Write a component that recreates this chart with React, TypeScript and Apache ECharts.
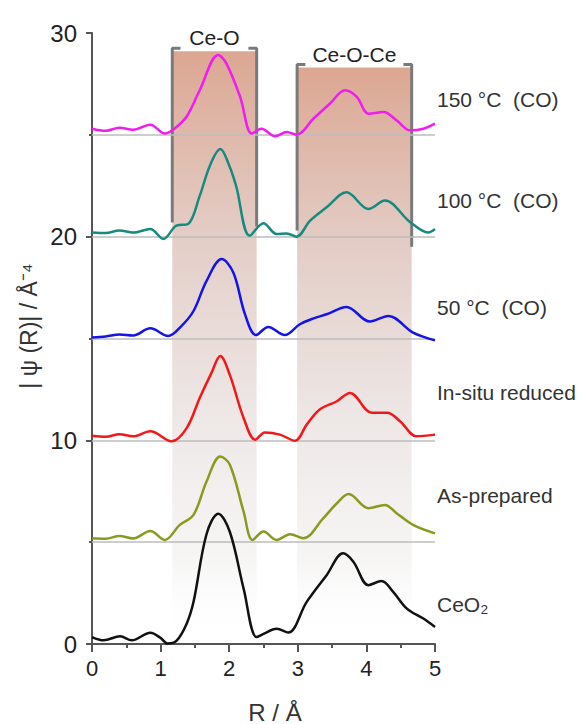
import React, { useEffect, useRef } from "react";
import * as echarts from "echarts";

// R (Å) / |ψ(R)| pairs, each spectrum already offset as in the figure
const ceo2: number[][] = [[0,0.34],[0.17,0.18],[0.41,0.38],[0.58,0.18],[0.85,0.55],[1.0,0.3],[1.1,0.02],[1.23,0.15],[1.38,1.0],[1.48,2.07],[1.67,5.4],[1.84,6.4],[2.01,5.5],[2.21,2.72],[2.4,0.34],[2.5,0.5],[2.69,0.75],[2.86,0.56],[3.13,2.07],[3.42,3.38],[3.66,4.45],[3.81,4.04],[4.03,2.89],[4.22,3.09],[4.39,2.56],[4.59,1.74],[4.83,1.25],[5.0,0.84]];
const asPrepared: number[][] = [[0,5.19],[0.2,5.17],[0.4,5.3],[0.6,5.18],[0.85,5.55],[1.06,5.11],[1.28,5.85],[1.48,6.34],[1.67,7.98],[1.87,9.21],[2.01,8.8],[2.21,6.5],[2.34,5.11],[2.5,5.52],[2.69,5.11],[2.89,5.39],[3.08,5.19],[3.37,6.17],[3.57,6.91],[3.74,7.36],[4.03,6.67],[4.27,6.83],[4.44,6.42],[4.68,5.85],[5.0,5.43]];
const inSitu: number[][] = [[0,10.23],[0.2,10.18],[0.4,10.3],[0.6,10.2],[0.85,10.44],[1.16,9.95],[1.38,10.6],[1.57,12.08],[1.74,13.3],[1.87,14.14],[2.01,13.2],[2.21,11.1],[2.38,10.03],[2.52,10.39],[2.74,10.28],[2.96,9.98],[3.13,10.77],[3.32,11.51],[3.57,11.92],[3.76,12.33],[4.08,11.35],[4.3,11.35],[4.49,10.94],[4.73,10.2],[5.0,10.28]];
const co50: number[][] = [[0,15.05],[0.2,15.1],[0.4,15.2],[0.6,15.15],[0.85,15.5],[1.11,15.12],[1.3,15.6],[1.48,16.35],[1.67,17.83],[1.89,18.9],[2.06,18.24],[2.23,16.19],[2.39,15.17],[2.57,15.57],[2.81,15.17],[3.03,15.7],[3.23,15.99],[3.42,16.19],[3.71,16.55],[4.05,15.83],[4.32,16.11],[4.68,15.29],[5.0,14.91]];
const co100: number[][] = [[0,20.21],[0.2,20.18],[0.4,20.3],[0.6,20.2],[0.85,20.38],[1.04,19.89],[1.23,20.54],[1.4,20.62],[1.57,22.0],[1.72,23.5],[1.87,24.3],[2.0,23.5],[2.1,22.5],[2.3,20.05],[2.5,20.66],[2.69,20.13],[2.84,20.16],[2.98,20.0],[3.18,20.79],[3.42,21.44],[3.71,22.18],[4.03,21.36],[4.27,21.77],[4.64,20.71],[4.9,20.21],[5.0,20.38]];
const co150: number[][] = [[0,25.3],[0.2,25.2],[0.4,25.35],[0.6,25.25],[0.85,25.5],[1.06,25.06],[1.2,25.3],[1.38,25.9],[1.57,27.19],[1.84,28.92],[1.96,28.5],[2.16,26.86],[2.33,25.06],[2.47,25.3],[2.67,24.93],[2.84,25.14],[2.98,25.01],[3.23,25.8],[3.47,26.54],[3.69,27.19],[3.86,26.86],[4.03,26.04],[4.25,26.12],[4.44,25.71],[4.64,25.22],[4.83,25.3],[5.0,25.55]];

const seriesNames = ["CeO₂", "As-prepared", "In-situ reduced", "50 °C (CO)", "100 °C (CO)", "150 °C (CO)"];
const seriesColors = ["#111111", "#8a9a1e", "#f01818", "#1414e6", "#178a80", "#f01cf0"];
const baselines = [5, 10, 15, 20, 25];

// shaded shell regions
const regionNames = ["Ce-O", "Ce-O-Ce"];
const regionX = [[1.17, 2.4], [2.99, 4.66]];
const regionTop = [29.1, 28.3];
const bracketBottom = [[20.7, 20.5], [20.3, 19.5]];

const xTicks = [0, 1, 2, 3, 4, 5];
const yTicks = [0, 10, 20, 30];

const sideLabels = ["150 °C\u00a0\u00a0(CO)", "100 °C\u00a0\u00a0(CO)", "50 °C\u00a0\u00a0(CO)", "In-situ reduced", "As-prepared", "CeO₂"];
const sideLabelY = [99, 200, 307, 392, 495, 604];

export default function App() {
  const ref = useRef<HTMLDivElement>(null);
  useEffect(() => {
    if (!ref.current) return;
    const chart = echarts.init(ref.current, null, { renderer: "svg" });
    const data = [ceo2, asPrepared, inSitu, co50, co100, co150];
    const font = "Liberation Sans, Arial, sans-serif";
    const grad = () =>
      new echarts.graphic.LinearGradient(0, 0, 0, 1, [
        { offset: 0, color: "rgba(218,162,140,0.95)" },
        { offset: 0.3, color: "rgba(224,198,190,0.9)" },
        { offset: 0.6, color: "rgba(232,224,222,0.8)" },
        { offset: 0.85, color: "rgba(240,238,237,0.6)" },
        { offset: 1, color: "rgba(255,255,255,0)" },
      ]);
    const bracketSeries: any[] = [];
    regionX.forEach((rx, i) => {
      const top = regionTop[i] + 0.15;
      const cap = 0.12;
      bracketSeries.push({
        type: "line",
        silent: true,
        symbol: "none",
        z: 3,
        lineStyle: { color: "#7a7a7a", width: 3 },
        data: [[rx[0], bracketBottom[i][0]], [rx[0], top], [rx[0] + cap, top]],
      });
      bracketSeries.push({
        type: "line",
        silent: true,
        symbol: "none",
        z: 3,
        lineStyle: { color: "#7a7a7a", width: 3 },
        data: [[rx[1] - cap, top], [rx[1], top], [rx[1], bracketBottom[i][1]]],
      });
    });
    const option: any = {
      animation: false,
      backgroundColor: "#ffffff",
      grid: { left: 92, right: 150, top: 33, bottom: 80 },
      xAxis: {
        type: "value",
        min: 0,
        max: 5,
        interval: 1,
        axisLine: { show: true, lineStyle: { color: "#555", width: 2 } },
        axisTick: { show: true, length: 8, lineStyle: { color: "#555", width: 2 } },
        minorTick: { show: true, splitNumber: 2, length: 4, lineStyle: { color: "#555", width: 2 } },
        splitLine: { show: false },
        axisLabel: {
          margin: 13,
          fontSize: 22,
          color: "#222",
          fontFamily: font,
          formatter: (v: number) => (xTicks.includes(v) ? String(v) : ""),
        },
      },
      yAxis: {
        type: "value",
        min: 0,
        max: 30,
        interval: 10,
        axisLine: { show: true, lineStyle: { color: "#555", width: 2 } },
        axisTick: { show: true, length: 6, lineStyle: { color: "#555", width: 2 } },
        minorTick: { show: true, splitNumber: 2, length: 3, lineStyle: { color: "#555", width: 2 } },
        splitLine: { show: false },
        axisLabel: {
          margin: 15,
          fontSize: 24,
          color: "#222",
          fontFamily: font,
          formatter: (v: number) => (yTicks.includes(v) ? String(v) : ""),
        },
      },
      series: [
        {
          type: "line",
          silent: true,
          data: [],
          z: 1,
          markArea: {
            silent: true,
            label: {
              show: true,
              position: "top",
              distance: 3,
              fontSize: 21,
              color: "#222",
              fontFamily: font,
            },
            data: regionX.map((rx, i) => [
              { name: regionNames[i], xAxis: rx[0], yAxis: 0, itemStyle: { color: grad() } },
              { xAxis: rx[1], yAxis: regionTop[i] },
            ]),
          },
          markLine: {
            silent: true,
            symbol: "none",
            label: { show: false },
            lineStyle: { color: "#bdbdbd", width: 1.5, type: "solid" },
            data: baselines.map((b) => ({ yAxis: b })),
          },
        },
        ...bracketSeries,
        ...data.map((d, i) => ({
          name: seriesNames[i],
          type: "line",
          data: d,
          smooth: 0.35,
          symbol: "none",
          z: 5,
          lineStyle: { color: seriesColors[i], width: 2.5 },
        })),
      ],
      graphic: [
        {
          type: "text",
          x: 29,
          y: 326,
          rotation: Math.PI / 2,
          style: {
            text: "| ψ (R)| / Å⁻⁴",
            fontSize: 23,
            fill: "#333",
            fontFamily: font,
            align: "center",
            verticalAlign: "middle",
          },
        },
        {
          type: "text",
          x: 275,
          y: 712,
          style: {
            text: "R / Å",
            fontSize: 24,
            fill: "#333",
            fontFamily: font,
            align: "center",
            verticalAlign: "middle",
          },
        },
        ...sideLabels.map((t, i) => ({
          type: "text",
          x: 437,
          y: sideLabelY[i],
          style: {
            text: t,
            fontSize: 21,
            fill: "#333",
            fontFamily: font,
            align: "left",
            verticalAlign: "middle",
          },
        })),
      ],
    };
    chart.setOption(option);
    return () => chart.dispose();
  }, []);
  return (
    <div
      ref={ref}
      style={{ position: "fixed", left: 0, top: 0, width: 585, height: 724, background: "#fff" }}
    />
  );
}
